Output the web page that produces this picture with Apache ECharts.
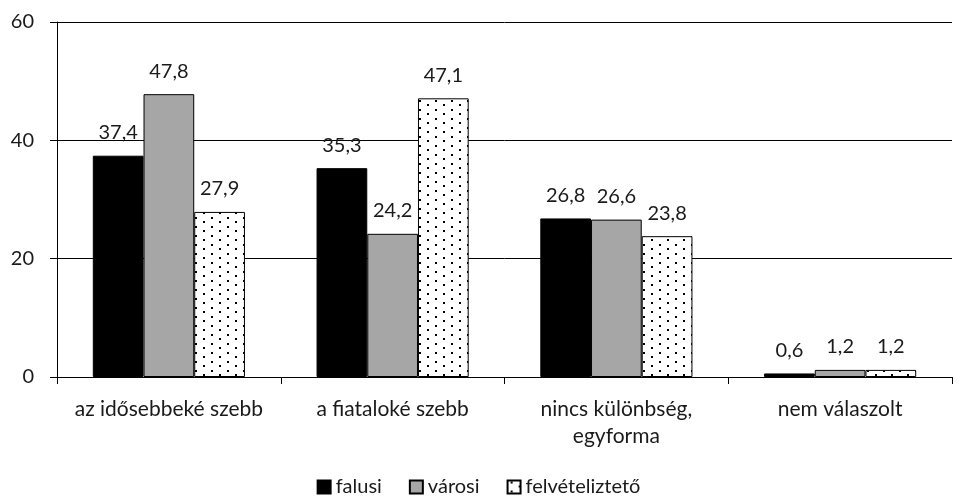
<!DOCTYPE html>
<html>
<head>
<meta charset="utf-8">
<script src="https://cdn.jsdelivr.net/npm/echarts@6/dist/echarts.min.js"></script>
<style>
  html, body { margin: 0; padding: 0; background: #fff; }
  #chart { width: 957px; height: 503px; }
</style>
</head>
<body>
<div id="chart"></div>
<script>
// adatok
const categories = ['az idősebbeké szebb', 'a fiataloké szebb', 'nincs különbség,\negyforma', 'nem válaszolt'];
const seriesNames = ['falusi', 'városi', 'felvételiztető'];
const falusi = [37.4, 35.3, 26.8, 0.6];
const varosi = [47.8, 24.2, 26.6, 1.2];
const felvetelizteto = [27.9, 47.1, 23.8, 1.2];
const yTicks = [0, 20, 40, 60];

// pöttyös minta
function dotPattern() {
    const c = document.createElement('canvas');
    c.width = 16;
    c.height = 9;
    const ctx = c.getContext('2d');
    ctx.fillStyle = '#fff';
    ctx.fillRect(0, 0, 16, 9);
    ctx.fillStyle = '#000';
    ctx.fillRect(3, 1, 2, 2);
    ctx.fillRect(11, 5, 2, 2);
    return c;
}

const font = 'Lato';
const chart = echarts.init(document.getElementById('chart'));

function barSeries(name, data, color) {
    return {
        name: name,
        type: 'bar',
        data: data,
        barGap: 0,
        barCategoryGap: '32%',
        itemStyle: { color: color, borderColor: '#000', borderWidth: 1 },
        label: {
            show: true,
            position: 'top',
            distance: 13,
            fontFamily: font,
            fontSize: 20,
            color: '#1a1a1a',
            formatter: p => p.value.toFixed(1).replace('.', ',')
        }
    };
}

chart.setOption({
    animation: false,
    textStyle: { fontFamily: font },
    grid: { left: 57, right: 5, top: 22, bottom: 126 },
    legend: {
        bottom: 1,
        left: 'center',
        itemWidth: 13,
        itemHeight: 13,
        itemGap: 27,
        icon: 'rect',
        textStyle: { fontFamily: font, fontSize: 20, color: '#1a1a1a' },
        data: seriesNames
    },
    xAxis: {
        type: 'category',
        data: categories,
        axisLine: { lineStyle: { color: '#000', width: 1 } },
        axisTick: { show: true, length: 7, lineStyle: { color: '#000' } },
        axisLabel: { fontFamily: font, fontSize: 21, color: '#1a1a1a', margin: 19, lineHeight: 27, interval: 0 }
    },
    yAxis: {
        type: 'value',
        min: yTicks[0],
        max: yTicks[yTicks.length - 1],
        interval: 20,
        axisLine: { show: true, lineStyle: { color: '#000', width: 1 } },
        axisTick: { show: true, length: 7, lineStyle: { color: '#000' } },
        axisLabel: { fontFamily: font, fontSize: 20, color: '#1a1a1a', margin: 23 },
        splitLine: { show: true, lineStyle: { color: '#000', width: 1 } }
    },
    series: [
        barSeries(seriesNames[0], falusi, '#000'),
        barSeries(seriesNames[1], varosi, '#a6a6a6'),
        barSeries(seriesNames[2], felvetelizteto, { image: dotPattern(), repeat: 'repeat' })
    ]
});
</script>
</body>
</html>
